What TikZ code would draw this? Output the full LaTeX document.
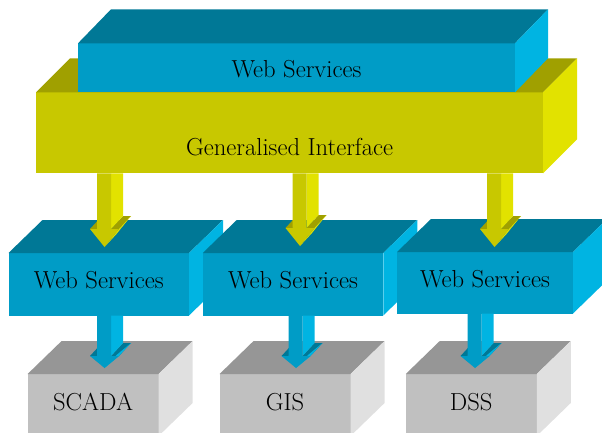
\documentclass[tikz,border=0pt]{standalone}
\usepackage{tikz}
\usetikzlibrary{calc}
\definecolor{gifront}{RGB}{200, 200, 0}
\definecolor{gitop}{RGB}{160, 160, 0}
\definecolor{giside}{RGB}{226, 226, 0}
\definecolor{svcfront}{RGB}{0, 156, 198}
\definecolor{svctop}{RGB}{0, 120, 150}
\definecolor{svcside}{RGB}{0, 180, 226}
\definecolor{sysfront}{RGB}{192, 192, 192}
\definecolor{systop}{RGB}{150, 150, 150}
\definecolor{sysside}{RGB}{224, 224, 224}

\tikzset{
  face/.style={inner sep=0pt, outer sep=0pt, font=\rmfamily\fontsize{24.6}{29}\selectfont},
  svcbox/.style={face, fill=svcfront, minimum width=180.5pt, minimum height=62.5pt, text depth=8pt},
  sysbox/.style={face, fill=sysfront, minimum width=131pt, minimum height=62pt, text depth=6pt}
}

% top and right faces behind a front face: node, depth, top colour, side colour
\newcommand{\boxdepth}[4]{%
  \fill[#3] (#1.north west) -- ++(#2) -- ($(#1.north east)+(#2)$) -- (#1.north east) -- cycle;
  \fill[#4] (#1.north east) -- ++(#2) -- ($(#1.south east)+(#2)$) -- (#1.south east) -- cycle;
}

% solid arrow out of a node down to a tip: node, tip, head height, front, top, side colour
\newcommand{\blockarrow}[6]{%
  \fill[#5] let \p1=(#2), \p2=(#1.south) in
    (\x1-14.5pt,\y1+#3pt) -- (\x1-7.5pt,\y1+#3pt) -- (\x1+4.5pt,\y1+#3pt+13pt) -- (\x1-2.5pt,\y1+#3pt+13pt) -- cycle
    (\x1+6.5pt,\y1+#3pt) -- (\x1+14.5pt,\y1+#3pt) -- (\x1+26.5pt,\y1+#3pt+13pt) -- (\x1+18.5pt,\y1+#3pt+13pt) -- cycle;
  \fill[#6] let \p1=(#2), \p2=(#1.south) in
    (\x1+6.5pt,\y2) -- (\x1+6.5pt,\y1+#3pt) -- (\x1+18.5pt,\y1+#3pt+13pt) -- (\x1+18.5pt,\y2) -- cycle
    (\x1+14.5pt,\y1+#3pt) -- (\p1) -- (\x1+12pt,\y1+13pt) -- (\x1+26.5pt,\y1+#3pt+13pt) -- cycle;
  \fill[#4] let \p1=(#2), \p2=(#1.south) in
    (\x1-7.5pt,\y2) -- (\x1-7.5pt,\y1+#3pt) -- (\x1-14.5pt,\y1+#3pt) -- (\p1)
    -- (\x1+14.5pt,\y1+#3pt) -- (\x1+6.5pt,\y1+#3pt) -- (\x1+6.5pt,\y2) -- cycle;
}

\begin{document}
\begin{tikzpicture}[x=1pt, y=-1pt, every node/.style={face}]
    \useasboundingbox (0,0) rectangle (602,432);
    \clip (0,0) rectangle (602,432);

    % Generalised Interface block
    \node[fill=gifront, minimum width=507pt, minimum height=81pt, text height=46pt, text depth=0pt] (gi) at (289.5,132.8) {Generalised Interface};
    \boxdepth{gi}{34,-34}{gitop}{giside}

    % Web Services on top of it
    \node[fill=svcfront, minimum width=437pt, minimum height=49pt, text height=20pt, text depth=0pt] (ws) at (296.5,67.8) {Web Services};
    \boxdepth{ws}{33,-34}{svctop}{svcside}

    % Web Services row
    \node[svcbox] (ws1) at (98.75,284.25) {Web Services};
    \boxdepth{ws1}{34,-33}{svctop}{svcside}
    \node[svcbox] (ws2) at (293,284.25) {Web Services};
    \boxdepth{ws2}{34,-33}{svctop}{svcside}
    \node[svcbox, minimum width=176pt, minimum height=61.5pt] (ws3) at (485,282.75) {Web Services};
    \boxdepth{ws3}{34,-33}{svctop}{svcside}

    % Arrows from the interface
    \coordinate (gt1) at (104.5,247);
    \coordinate (gt2) at (300,246);
    \coordinate (gt3) at (494.5,247);
    \blockarrow{gi}{gt1}{18}{gifront}{gitop}{giside}
    \blockarrow{gi}{gt2}{18}{gifront}{gitop}{giside}
    \blockarrow{gi}{gt3}{18}{gifront}{gitop}{giside}

    % Systems row
    \node[sysbox] (scada) at (93.1,405) {SCADA};
    \boxdepth{scada}{34,-33}{systop}{sysside}
    \node[sysbox] (gis) at (285.05,405) {GIS};
    \boxdepth{gis}{34,-33}{systop}{sysside}
    \node[sysbox] (dss) at (471.25,405) {DSS};
    \boxdepth{dss}{34,-33}{systop}{sysside}

    % Arrows from the services
    \coordinate (st1) at (104.5,368);
    \coordinate (st2) at (296,368);
    \coordinate (st3) at (475,368);
    \blockarrow{ws1}{st1}{12}{svcfront}{svctop}{svcside}
    \blockarrow{ws2}{st2}{12}{svcfront}{svctop}{svcside}
    \blockarrow{ws3}{st3}{12}{svcfront}{svctop}{svcside}
\end{tikzpicture}
\end{document}
